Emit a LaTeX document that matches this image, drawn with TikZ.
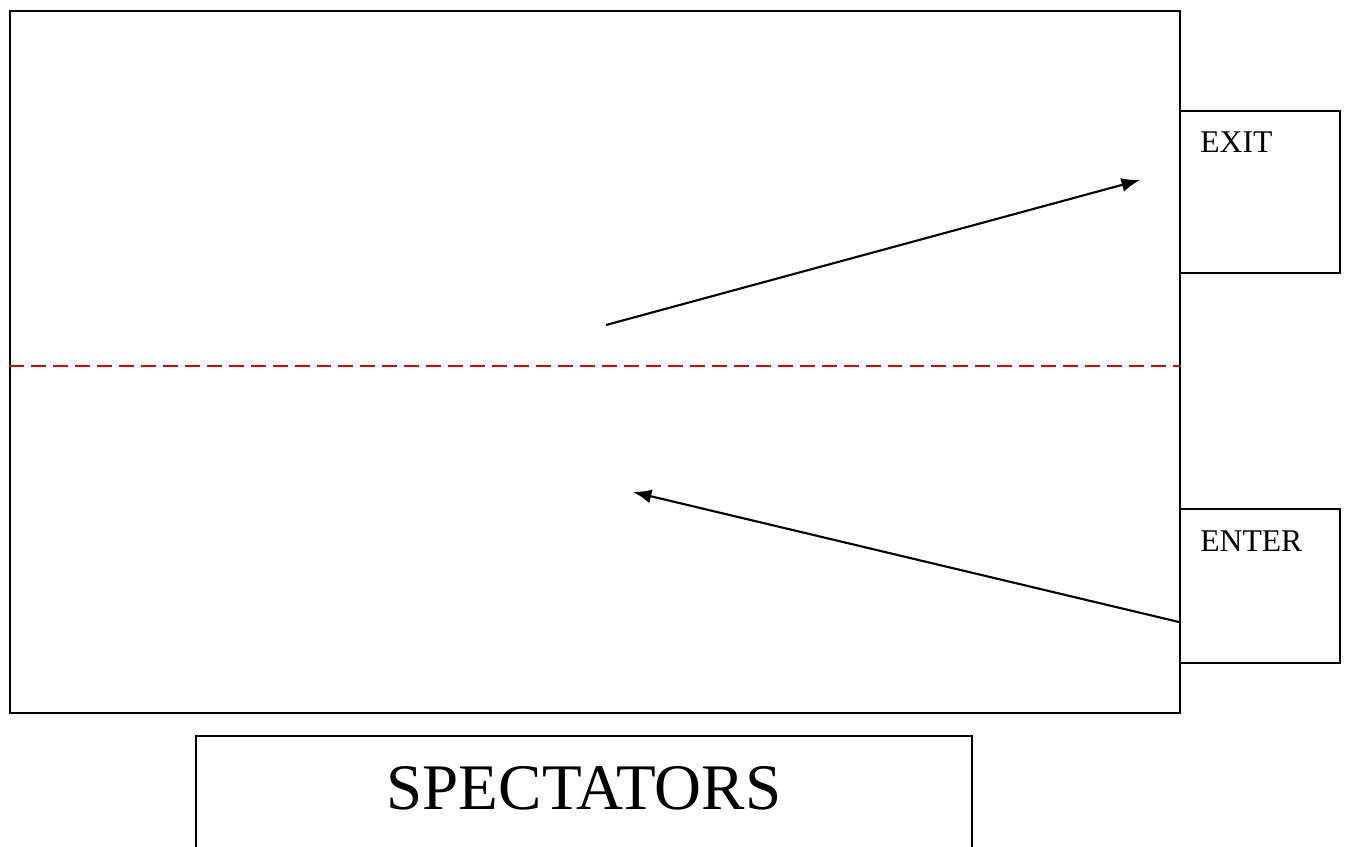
\documentclass[tikz,border=0pt]{standalone}
\usepackage{fontspec}
\setmainfont{Liberation Serif}
\usetikzlibrary{arrows.meta, positioning, calc}

\begin{document}
\begin{tikzpicture}[x=0.02cm, y=-0.02cm,
    wall/.style={draw=black, line width=1.2pt, inner sep=0pt},
    doorbox/.style={wall, minimum width=3.2cm},
    doortext/.style={anchor=base west, inner sep=0pt, font=\fontsize{18}{20}\selectfont},
    flow/.style={draw=black, line width=1.2pt, -{Latex[length=10.5pt, width=8pt]}},
    halfway/.style={draw=red!90!black, line width=1.1pt, dash pattern=on 8.5pt off 4pt}]
    \useasboundingbox (0,0) rectangle (1346,846);
    \clip (0,0) rectangle (1346,846);

    % playing field
    \node[wall, minimum width=23.4cm, minimum height=14.04cm] (field) at (595,362) {};
    \draw[halfway] (field.west |- 0,366) -- (field.east |- 0,366);

    % EXIT box
    \node[doorbox, minimum height=3.24cm] (exit) at (1260,192) {};
    \node[doortext] (exit label) at (1200,152) {EXIT};

    % ENTER box
    \node[doorbox, minimum height=3.08cm] (enter) at (1260,586) {};
    \node[doortext] (enter label) at (1200,551) {ENTER};

    % spectators stand
    \node[wall, anchor=north, minimum width=15.52cm, text height=1.46cm, text depth=3cm,
          font=\fontsize{37}{40}\selectfont] (spectators) at (584,735) {SPECTATORS};

    % movement
    \coordinate (exit from) at (606,325);
    \coordinate (exit to) at (1140,180);
    \coordinate (enter to) at (633,492);
    \draw[flow] (exit from) -- (exit to);
    \draw[flow] (enter.west |- 0,622) -- (enter to);
\end{tikzpicture}
\end{document}
